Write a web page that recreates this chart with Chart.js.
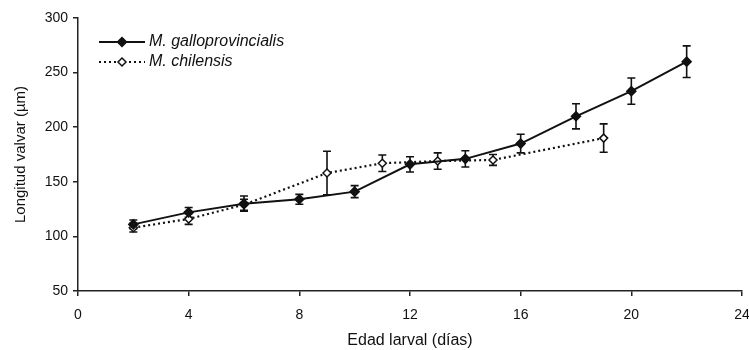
<!DOCTYPE html>
<html>
<head>
<meta charset="utf-8">
<script src="https://cdn.jsdelivr.net/npm/chart.js@4/dist/chart.umd.min.js"></script>
<style>
  html, body { margin: 0; padding: 0; background: #fff; }
  #wrap { width: 749px; height: 350px; }
</style>
</head>
<body>
<div id="wrap"><canvas id="c" width="749" height="350"></canvas></div>
<script>
// ---- Data ----
const galloDays   = [2, 4, 6, 8, 10, 12, 14, 16, 18, 20, 22];
const galloLength = [111, 122, 130, 134, 141, 166, 171, 185, 210, 233, 260];
const galloError  = [4, 4.5, 7, 4.5, 5.5, 7, 7.5, 8.5, 11.5, 12, 14.5];

const chilDays    = [2, 4, 6, 9, 11, 13, 15, 19];
const chilLength  = [108, 116, 129, 158, 167, 169, 170, 190];
const chilError   = [4, 5, 5, 20, 7.5, 7.5, 5, 13];

const seriesNames = ['M. galloprovincialis', 'M. chilensis'];
const xTicks = [0, 4, 8, 12, 16, 20, 24];
const yTicks = [50, 100, 150, 200, 250, 300];
const xTitle = 'Edad larval (días)';
const yTitle = 'Longitud valvar (µm)';

const FONT = "'Liberation Sans', Arial, sans-serif";
const INK = '#111';

const toPts = (xs, ys) => xs.map((x, i) => ({ x: x, y: ys[i] }));

// error bars drawn under the lines/markers
const errorBarPlugin = {
  id: 'errorBars',
  beforeDatasetsDraw(chart) {
    const ctx = chart.ctx;
    const xs = chart.scales.x, ys = chart.scales.y;
    chart.data.datasets.forEach((ds) => {
      if (!ds.errors) return;
      ctx.save();
      ctx.strokeStyle = INK;
      ctx.lineWidth = 1.6;
      ds.data.forEach((p, i) => {
        const e = ds.errors[i];
        const px = xs.getPixelForValue(p.x);
        const top = ys.getPixelForValue(p.y + e);
        const bot = ys.getPixelForValue(p.y - e);
        ctx.beginPath();
        ctx.moveTo(px, top); ctx.lineTo(px, bot);
        ctx.moveTo(px - 4, top); ctx.lineTo(px + 4, top);
        ctx.moveTo(px - 4, bot); ctx.lineTo(px + 4, bot);
        ctx.stroke();
      });
      ctx.restore();
    });
  }
};

// legend inside plot, top-left
const legendPlugin = {
  id: 'inLegend',
  afterDraw(chart) {
    const ctx = chart.ctx;
    const a = chart.chartArea;
    const x0 = a.left + 21, len = 46;
    chart.data.datasets.forEach((ds, i) => {
      const y = a.top + 24 + i * 20;
      ctx.save();
      ctx.strokeStyle = INK;
      ctx.lineWidth = ds.borderWidth;
      ctx.setLineDash(ds.borderDash || []);
      ctx.beginPath();
      ctx.moveTo(x0, y); ctx.lineTo(x0 + len, y);
      ctx.stroke();
      ctx.setLineDash([]);
      const cx = x0 + len / 2, r = ds.pointRadius;
      ctx.beginPath();
      ctx.moveTo(cx, y - r); ctx.lineTo(cx + r, y); ctx.lineTo(cx, y + r); ctx.lineTo(cx - r, y);
      ctx.closePath();
      ctx.fillStyle = ds.pointBackgroundColor;
      ctx.fill();
      ctx.lineWidth = 1.5;
      ctx.stroke();
      ctx.fillStyle = INK;
      ctx.font = "italic 16px " + FONT;
      ctx.textBaseline = 'middle';
      ctx.textAlign = 'left';
      ctx.fillText(ds.label, x0 + len + 4, y);
      ctx.restore();
    });
  }
};

new Chart(document.getElementById('c'), {
  type: 'scatter',
  data: {
    datasets: [
      {
        label: seriesNames[0],
        data: toPts(galloDays, galloLength),
        errors: galloError,
        showLine: true,
        borderColor: INK,
        borderWidth: 2,
        pointStyle: 'rectRot',
        pointRadius: 4.5,
        pointBackgroundColor: INK,
        pointBorderColor: INK,
        pointBorderWidth: 1.5,
        tension: 0
      },
      {
        label: seriesNames[1],
        data: toPts(chilDays, chilLength),
        errors: chilError,
        showLine: true,
        borderColor: INK,
        borderWidth: 2.2,
        borderDash: [2, 3],
        pointStyle: 'rectRot',
        pointRadius: 4,
        pointBackgroundColor: '#fff',
        pointBorderColor: INK,
        pointBorderWidth: 1.5,
        tension: 0
      }
    ]
  },
  options: {
    responsive: false,
    animation: false,
    layout: { padding: { top: 18, right: 0, left: 0, bottom: 0 } },
    plugins: { legend: { display: false }, tooltip: { enabled: false } },
    scales: {
      x: {
        type: 'linear',
        min: 0, max: 24,
        afterBuildTicks: (s) => { s.ticks = xTicks.map(v => ({ value: v })); },
        ticks: { color: INK, font: { family: FONT, size: 14 }, padding: 11, maxRotation: 0 },
        grid: { display: true, drawOnChartArea: false, drawTicks: true, tickLength: 5, color: '#222', lineWidth: 1.5 },
        border: { display: true, color: '#222', width: 1.5 },
        title: { display: true, text: xTitle, color: INK, font: { family: FONT, size: 16 }, padding: { top: 2, bottom: 0 } },
        afterFit: (s) => { s.height = 59; s.paddingRight = 7; s.paddingLeft = 0; }
      },
      y: {
        type: 'linear',
        min: 50, max: 300,
        afterBuildTicks: (s) => { s.ticks = yTicks.map(v => ({ value: v })); },
        ticks: { color: INK, font: { family: FONT, size: 14 }, padding: 5 },
        grid: { display: true, drawOnChartArea: false, drawTicks: true, tickLength: 5, color: '#222', lineWidth: 1.5 },
        border: { display: true, color: '#222', width: 1.5 },
        title: { display: true, text: yTitle, color: INK, font: { family: FONT, size: 15 }, padding: { top: 12, bottom: 4 } },
        afterFit: (s) => { s.width = 78; }
      }
    }
  },
  plugins: [errorBarPlugin, legendPlugin]
});
</script>
</body>
</html>
